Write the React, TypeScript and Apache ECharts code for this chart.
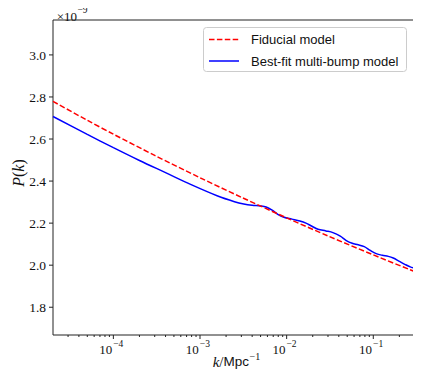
import React, { useEffect, useRef } from "react";
import * as echarts from "echarts";

// Data (P(k) in units of 1e-9)
const fidK = [2.01e-5, 5e-5, 1e-4, 3e-4, 1e-3, 3e-3, 1e-2, 3e-2, 1e-1, 0.303];
const fidP = [2.779, 2.689, 2.623, 2.522, 2.416, 2.323, 2.225, 2.139, 2.049, 1.969];

const fitK = [
  2.01e-5, 5.0e-5, 1e-4, 2.0e-4, 4.0e-4, 7.9e-4, 1.6e-3, 2.5e-3, 3.2e-3, 4.0e-3,
  5.0e-3, 5.8e-3, 6.8e-3, 7.9e-3, 9.3e-3, 1.15e-2, 1.42e-2, 1.67e-2, 1.96e-2, 2.3e-2,
  2.84e-2, 3.42e-2, 4.16e-2, 4.88e-2, 5.71e-2, 6.71e-2, 7.87e-2, 9.23e-2, 0.108, 0.127,
  0.149, 0.17, 0.2, 0.234, 0.267, 0.303,
];
const fitP = [
  2.707, 2.622, 2.559, 2.498, 2.44, 2.383, 2.329, 2.302, 2.291, 2.285,
  2.282, 2.277, 2.262, 2.242, 2.228, 2.219, 2.21, 2.2, 2.185, 2.171,
  2.163, 2.155, 2.138, 2.117, 2.104, 2.097, 2.088, 2.07, 2.055, 2.047,
  2.042, 2.034, 2.018, 2.003, 1.992, 1.985,
];

const seriesNames = ["Fiducial model", "Best-fit multi-bump model"];
const xMajorTicks = [1e-4, 1e-3, 1e-2, 1e-1];
const xMajorExp = ["−4", "−3", "−2", "−1"];
const yTicks = [1.8, 2.0, 2.2, 2.4, 2.6, 2.8, 3.0];
const yTickLabels = ["1.8", "2.0", "2.2", "2.4", "2.6", "2.8", "3.0"];

const X_MIN = 2.01e-5;
const X_MAX = 0.303;
const Y_MIN = 1.668;
const Y_MAX = 3.166;

const xMinorTicks: number[] = [];
for (let e = -5; e <= -1; e++) {
  for (let m = 2; m <= 9; m++) {
    const v = m * Math.pow(10, e);
    if (v >= X_MIN && v <= X_MAX) xMinorTicks.push(v);
  }
}

const SERIF = "Liberation Serif";
const SANS = "Liberation Sans";
const AX = "#222";
const TXT = "#111";

export default function App() {
  const ref = useRef<HTMLDivElement>(null);
  useEffect(() => {
    if (!ref.current) return;
    const chart = echarts.init(ref.current, null, { renderer: "svg" });
    const xTickData = [
      ...xMajorTicks.map((k, i) => [k, Y_MIN, 1, i]),
      ...xMinorTicks.map((k) => [k, Y_MIN, 0, -1]),
    ];
    const yTickData = yTicks.map((v, i) => [X_MIN, v, i]);
    chart.setOption({
      animation: false,
      grid: {
        left: 53,
        top: 20,
        right: 6,
        bottom: 51,
        show: true,
        borderColor: AX,
        borderWidth: 1,
        backgroundColor: "transparent",
      },
      xAxis: {
        type: "log",
        logBase: 10,
        min: X_MIN,
        max: X_MAX,
        axisLine: { show: false },
        axisTick: { show: false },
        axisLabel: { show: false },
        splitLine: { show: false },
      },
      yAxis: {
        type: "value",
        min: Y_MIN,
        max: Y_MAX,
        axisLine: { show: false },
        axisTick: { show: false },
        axisLabel: { show: false },
        splitLine: { show: false },
      },
      series: [
        {
          name: seriesNames[0],
          type: "line",
          data: fidK.map((k, i) => [k, fidP[i]]),
          symbol: "none",
          smooth: 0.3,
          lineStyle: { color: "#ff0000", width: 1.5, type: [5.5, 2.4] },
          z: 3,
        },
        {
          name: seriesNames[1],
          type: "line",
          data: fitK.map((k, i) => [k, fitP[i]]),
          symbol: "none",
          smooth: 0.35,
          lineStyle: { color: "#0000ff", width: 1.5 },
          z: 2,
        },
        {
          type: "custom",
          name: "xticks",
          clip: false,
          silent: true,
          data: xTickData,
          renderItem: (params: any, api: any) => {
            const k = api.value(0);
            const major = api.value(2) === 1;
            const idx = api.value(3);
            const p = api.coord([k, Y_MIN]);
            const children: any[] = [
              {
                type: "line",
                shape: { x1: p[0], y1: p[1], x2: p[0], y2: p[1] + (major ? 4 : 2) },
                style: { stroke: AX, lineWidth: 1 },
              },
            ];
            if (major) {
              children.push({
                type: "text",
                x: p[0] - 1.2,
                y: p[1] + 14,
                style: {
                  text: "10",
                  fontFamily: SERIF,
                  fontSize: 13,
                  fill: TXT,
                  align: "right",
                  verticalAlign: "middle",
                },
              });
              children.push({
                type: "text",
                x: p[0] - 0.2,
                y: p[1] + 9,
                style: {
                  text: xMajorExp[idx],
                  fontFamily: SERIF,
                  fontSize: 9.5,
                  fill: TXT,
                  align: "left",
                  verticalAlign: "middle",
                },
              });
            }
            return { type: "group", children };
          },
        },
        {
          type: "custom",
          name: "yticks",
          clip: false,
          silent: true,
          data: yTickData,
          renderItem: (params: any, api: any) => {
            const v = api.value(1);
            const idx = api.value(2);
            const p = api.coord([X_MIN, v]);
            return {
              type: "group",
              children: [
                {
                  type: "line",
                  shape: { x1: p[0] - 4, y1: p[1], x2: p[0], y2: p[1] },
                  style: { stroke: AX, lineWidth: 1 },
                },
                {
                  type: "text",
                  x: p[0] - 7,
                  y: p[1] + 0.5,
                  style: {
                    text: yTickLabels[idx],
                    fontFamily: SERIF,
                    fontSize: 13.5,
                    fill: TXT,
                    align: "right",
                    verticalAlign: "middle",
                  },
                },
              ],
            };
          },
        },
      ],
      graphic: [
        // offset multiplier
        {
          type: "text",
          x: 77,
          y: 16,
          style: { text: "×10", fontFamily: SERIF, fontSize: 13, fill: TXT, align: "right", verticalAlign: "middle" },
        },
        {
          type: "text",
          x: 77.5,
          y: 9.5,
          style: { text: "−9", fontFamily: SERIF, fontSize: 9.5, fill: TXT, align: "left", verticalAlign: "middle" },
        },
        // x axis title
        {
          type: "text",
          x: 249,
          y: 361.5,
          style: {
            text: "{i|k}{n|/}{m|Mpc}",
            align: "right",
            verticalAlign: "middle",
            rich: {
              i: { fontFamily: SERIF, fontStyle: "italic", fontSize: 15, fill: TXT },
              n: { fontFamily: SERIF, fontSize: 15, fill: TXT },
              m: { fontFamily: SANS, fontSize: 13.5, fill: TXT },
            },
          },
        },
        {
          type: "text",
          x: 249.5,
          y: 356,
          style: { text: "−1", fontFamily: SERIF, fontSize: 10, fill: TXT, align: "left", verticalAlign: "middle" },
        },
        // y axis title
        {
          type: "text",
          x: 18,
          y: 173,
          rotation: Math.PI / 2,
          style: {
            text: "{i|P}{n|(}{i|k}{n|)}",
            align: "center",
            verticalAlign: "middle",
            rich: {
              i: { fontFamily: SERIF, fontStyle: "italic", fontSize: 16, fill: TXT },
              n: { fontFamily: SERIF, fontSize: 16, fill: TXT },
            },
          },
        },
        // legend
        {
          type: "rect",
          shape: { x: 203.5, y: 27.5, width: 203, height: 44, r: 3 },
          style: { fill: "rgba(255,255,255,0.8)", stroke: "#cccccc", lineWidth: 1 },
          z: 10,
        },
        {
          type: "line",
          shape: { x1: 209, y1: 39.5, x2: 239, y2: 39.5 },
          style: { stroke: "#ff0000", lineWidth: 1.5, lineDash: [5.5, 2.4] },
          z: 11,
        },
        {
          type: "text",
          x: 251,
          y: 39.5,
          style: { text: seriesNames[0], fontFamily: SANS, fontSize: 13, fill: TXT, verticalAlign: "middle" },
          z: 11,
        },
        {
          type: "line",
          shape: { x1: 209, y1: 61, x2: 239, y2: 61 },
          style: { stroke: "#0000ff", lineWidth: 1.5 },
          z: 11,
        },
        {
          type: "text",
          x: 251,
          y: 61,
          style: { text: seriesNames[1], fontFamily: SANS, fontSize: 13, fill: TXT, verticalAlign: "middle" },
          z: 11,
        },
      ],
    });
    return () => chart.dispose();
  }, []);
  return <div ref={ref} style={{ width: 421, height: 386, margin: -8 }} />;
}
